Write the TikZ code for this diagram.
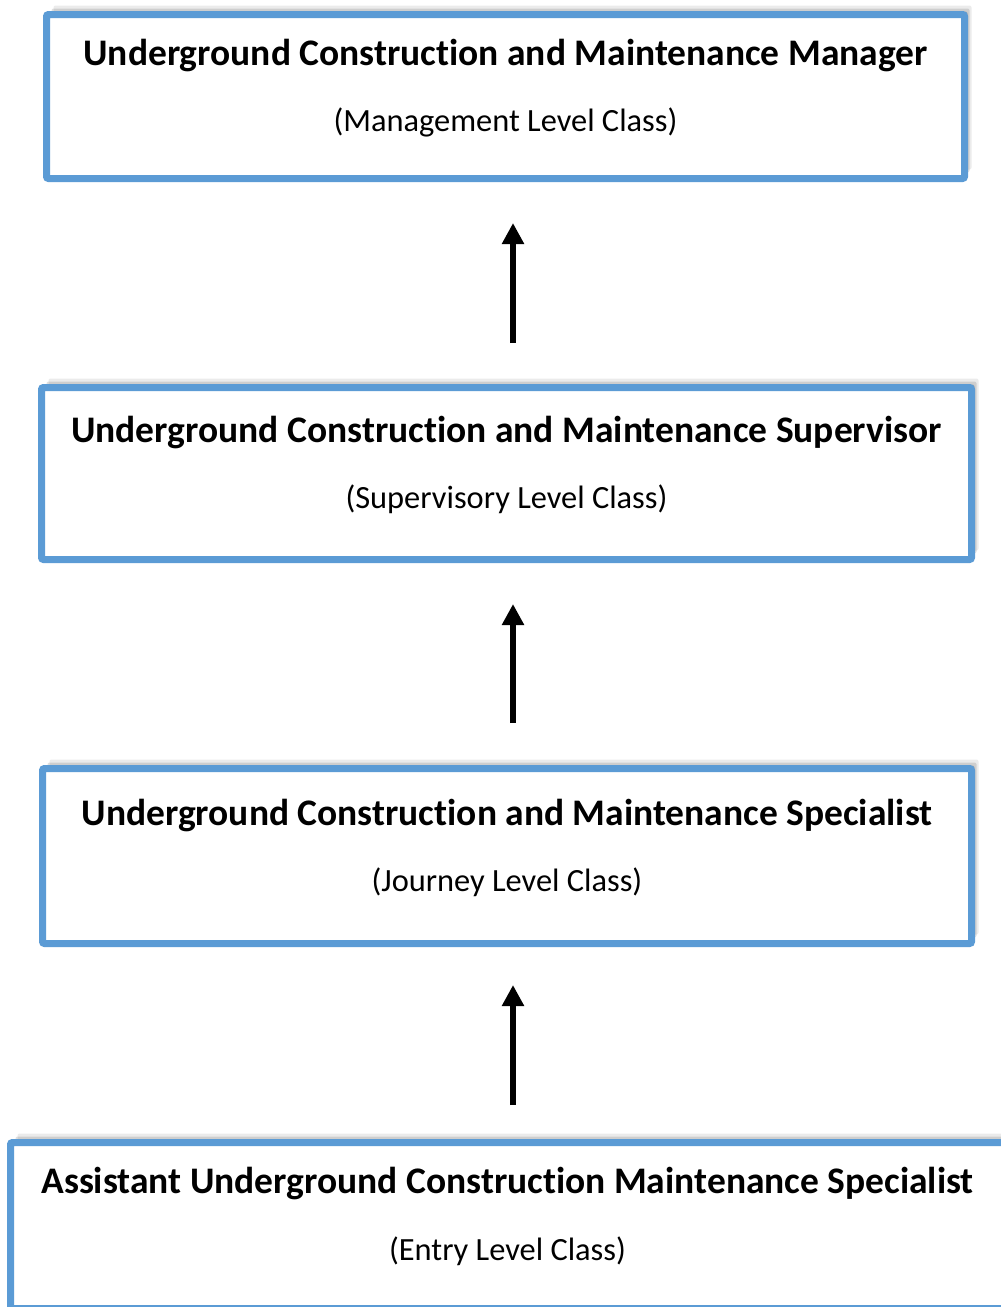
\documentclass[tikz,border=0pt]{standalone}
\usepackage{fontspec}
\setmainfont{Carlito}[Ligatures=CommonOff]
\usepackage{xcolor}
\usetikzlibrary{shadows}
\usetikzlibrary{arrows.meta}
\definecolor{boxblue}{HTML}{5B9BD5}

\tikzset{
  classbox/.style={draw=boxblue, line width=7pt, rounded corners=2pt, fill=white, inner sep=0pt,
    general shadow={fill=black, opacity=.08, shadow xshift=7pt, shadow yshift=9pt},
    general shadow={fill=black, opacity=.12, shadow xshift=5pt, shadow yshift=6pt},
    general shadow={fill=black, opacity=.18, shadow xshift=3pt, shadow yshift=3pt}},
  classtitle/.style={font=\fontsize{37.5}{42}\selectfont\bfseries, anchor=base, inner sep=0pt},
  classlevel/.style={font=\fontsize{32.4}{38}\selectfont, anchor=base, inner sep=0pt},
  uparrow/.style={line width=6.5pt, -{Triangle[width=21pt,length=21pt]}}
}

\begin{document}
\begin{tikzpicture}[x=1pt,y=-1pt]
   \useasboundingbox (0,0) rectangle (1001,1307);
   \coordinate (ax) at (513,0);

   % the four classes
   \node[classbox, minimum width=918pt, minimum height=164pt] (b1) at (505.5,96.5) {};
   \node[classbox, minimum width=930pt, minimum height=172pt] (b2) at (506.5,473.5) {};
   \node[classbox, minimum width=929pt, minimum height=175pt] (b3) at (507,856) {};
   \node[classbox, minimum width=994pt, minimum height=166pt] (b4) at (507.5,1225.5) {};

   \node[classtitle] (t1) at ([yshift=-54pt]b1.north) {Underground Construction and Maintenance Manager};
   \node[classlevel] (l1) at ([yshift=-120pt]b1.north) {(Management Level Class)};
   \node[classtitle] (t2) at ([yshift=-58pt]b2.north) {Underground Construction and Maintenance Supervisor};
   \node[classlevel] (l2) at ([yshift=-124pt]b2.north) {(Supervisory Level Class)};
   \node[classtitle] (t3) at ([yshift=-60pt]b3.north) {Underground Construction and Maintenance Specialist};
   \node[classlevel] (l3) at ([yshift=-126pt]b3.north) {(Journey Level Class)};
   \node[classtitle] (t4) at ([yshift=-54pt]b4.north) {Assistant Underground Construction Maintenance Specialist};
   \node[classlevel] (l4) at ([yshift=-121pt]b4.north) {(Entry Level Class)};

   % promotion arrows
   \draw[uparrow, shorten <=41pt, shorten >=41pt] (b2.north -| ax) -- (b1.south -| ax);
   \draw[uparrow, shorten <=42pt, shorten >=41pt] (b3.north -| ax) -- (b2.south -| ax);
   \draw[uparrow, shorten <=34pt, shorten >=38pt] (b4.north -| ax) -- (b3.south -| ax);
\end{tikzpicture}
\end{document}
